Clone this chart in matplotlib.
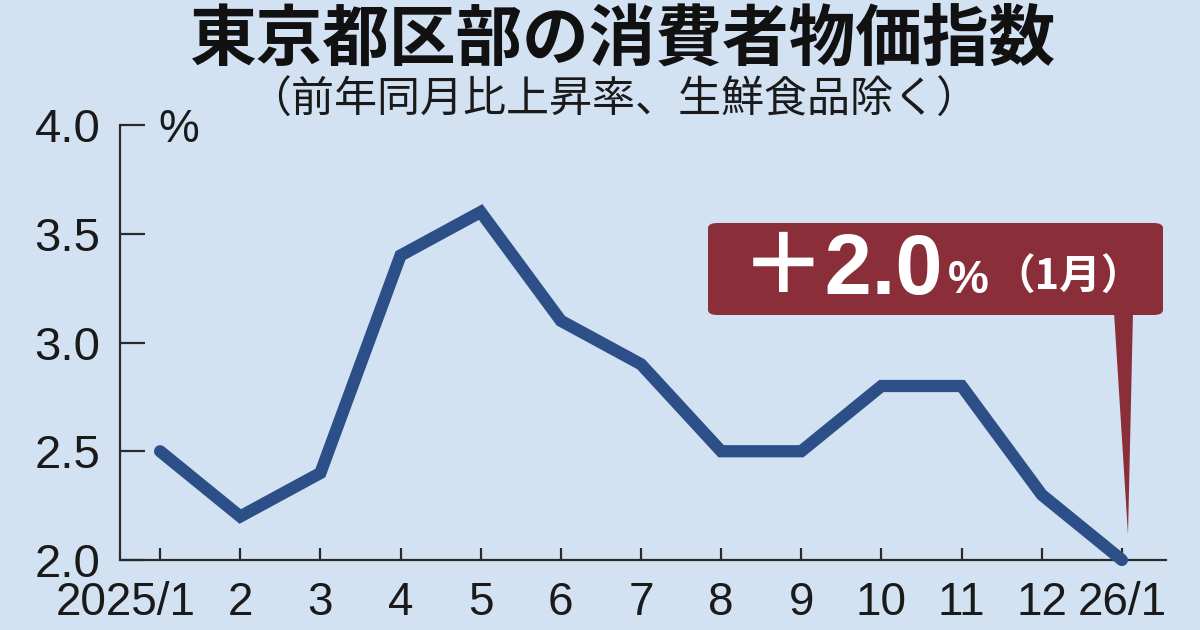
import matplotlib
matplotlib.use("Agg")
import matplotlib.pyplot as plt
from matplotlib import font_manager
from matplotlib.patches import FancyBboxPatch, Polygon
from matplotlib.transforms import ScaledTranslation

months = ["2025/1", "2", "3", "4", "5", "6", "7", "8", "9", "10", "11", "12", "26/1"]
cpi = [2.5, 2.2, 2.4, 3.4, 3.6, 3.1, 2.9, 2.5, 2.5, 2.8, 2.8, 2.3, 2.0]
yticks = [2.0, 2.5, 3.0, 3.5, 4.0]
ytick_labels = ["2.0", "2.5", "3.0", "3.5", "4.0"]
title = "東京都区部の消費者物価指数"
subtitle = "（前年同月比上昇率、生鮮食品除く）"
callout_value = "＋2.0"
callout_unit = "%"
callout_month = "（1月）"

names = {f.name for f in font_manager.fontManager.ttflist}
num_font = "Liberation Sans Narrow" if "Liberation Sans Narrow" in names else "Liberation Sans"
cjk = "Noto Sans CJK JP"

BG = "#d3e2f3"
LINE = "#2b4f86"
BOX = "#8a2e3a"
AX = "#2a2a2a"

W, H = 1200, 630
fig = plt.figure(figsize=(12, 6.3), dpi=100, facecolor=BG)

def fx(x):
    return x / W

def fy(y):
    return 1 - y / H

ax = fig.add_axes([fx(120), fy(560), fx(1166) - fx(120), fy(125) - fy(560)])
ax.set_facecolor(BG)
ax.set_xlim(-0.5, 12.55)
ax.set_ylim(2.0, 4.0)

ax.plot(range(len(cpi)), cpi, color=LINE, lw=8.8, solid_capstyle="round",
        solid_joinstyle="miter", clip_on=False, zorder=3)

for s in ["top", "right"]:
    ax.spines[s].set_visible(False)
for s in ["left", "bottom"]:
    ax.spines[s].set_color(AX)
    ax.spines[s].set_linewidth(1.6)

ax.set_yticks(yticks)
ax.set_yticklabels(ytick_labels)
ax.set_xticks(range(len(months)))
ax.set_xticklabels(months)
ax.tick_params(axis="y", direction="in", length=18, width=1.6, color=AX, pad=14,
               labelsize=34, labelcolor="#1a1a1a")
ax.tick_params(axis="x", direction="in", length=9, width=1.6, color=AX, pad=15,
               labelsize=33, labelcolor="#1a1a1a")
for lab in ax.get_xticklabels() + ax.get_yticklabels():
    lab.set_fontfamily(num_font)
first = ax.get_xticklabels()[0]
first.set_transform(first.get_transform() + ScaledTranslation(-34 / 100, 0, fig.dpi_scale_trans))

fig.text(fx(158), fy(130), "%", fontfamily=num_font, fontsize=33, color="#1a1a1a",
         ha="left", va="center")

fig.text(fx(622), fy(40), title, fontfamily=[cjk, "DejaVu Sans"], fontweight="bold",
         fontsize=48, color="#111111", ha="center", va="center")
fig.text(fx(614), fy(101), subtitle, fontfamily=[cjk, "DejaVu Sans"], fontsize=31,
         color="#1a1a1a", ha="center", va="center")

# callout
box = FancyBboxPatch((fx(708), fy(315)), fx(1163) - fx(708), fy(223) - fy(315),
                     boxstyle="round,pad=0,rounding_size=0.008",
                     transform=fig.transFigure, facecolor=BOX, edgecolor="none", zorder=5)
fig.add_artist(box)
tri = Polygon([(fx(1114), fy(312)), (fx(1133), fy(312)), (fx(1128), fy(535))],
              closed=True, transform=fig.transFigure, facecolor=BOX, edgecolor="none", zorder=5)
fig.add_artist(tri)

fig.text(fx(741), fy(272), callout_value, fontfamily=[num_font, cjk], fontweight="bold",
         fontsize=61, color="white", ha="left", va="center", zorder=6)
fig.text(fx(948), fy(281), callout_unit, fontfamily=num_font, fontweight="bold",
         fontsize=33, color="white", ha="left", va="center", zorder=6)
fig.text(fx(993), fy(278), callout_month, fontfamily=[cjk, "DejaVu Sans"], fontweight="bold",
         fontsize=30, color="white", ha="left", va="center", zorder=6)

fig.savefig("out.png", dpi=100, facecolor=BG)
